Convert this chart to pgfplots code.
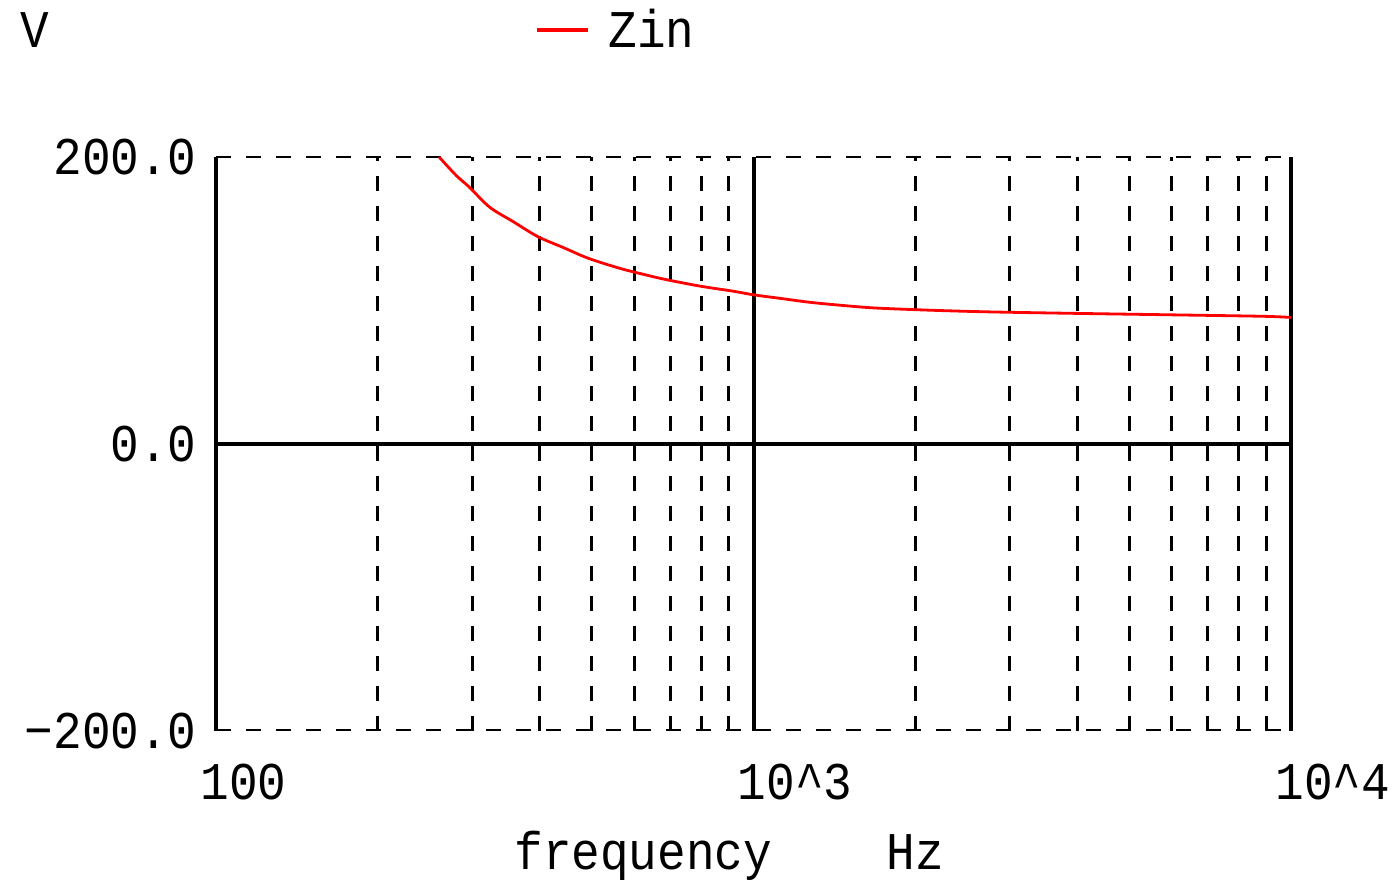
\documentclass[border=0pt]{standalone}
\usepackage{fontspec}
\setmainfont{Liberation Mono}[FakeStretch=0.9]
\usepackage{pgfplots}
\usepackage{pgfplotstable}
\pgfplotsset{compat=1.18}

% Input impedance magnitude versus frequency
\pgfplotstableread{
f      z
260    200.0
280    187.0
296    179.0
323    165.0
357    155.0
397    144.5
442    137.0
492    129.5
557    123.0
597    120.0
679    115.0
796    110.0
916    106.5
998    104.0
1120   101.5
1290   98.5
1578   95.5
1765   94.4
2223   93.0
2790   92.0
4000   91.0
6000   90.0
8832   89.0
10000  88.2
}\zin

\begin{document}
\begin{tikzpicture}
\fontsize{26.5}{30}\selectfont
\useasboundingbox (0,0) rectangle (696.5pt,441pt);
\begin{axis}[
  at={(108pt,75.5pt)}, anchor=south west,
  scale only axis, width=537.5pt, height=287pt,
  xmode=log, xmin=100, xmax=10000,
  ymin=-200, ymax=200,
  xtick={100,1000,10000},
  xticklabels={100,10\textasciicircum 3,10\textasciicircum 4},
  ytick={-200,0,200},
  yticklabels={−200.0,0.0,200.0},
  major tick length=0pt, minor tick length=0pt,
  axis line style={draw=none},
  xmajorgrids, xminorgrids,
  major grid style={black, line width=2pt},
  minor grid style={black, line width=1.5pt, dash pattern=on 7.5pt off 7.5pt},
  tick label style={font=\fontsize{26.5}{30}\selectfont, inner sep=0pt},
  xticklabel style={anchor=base west, xshift=-8pt, yshift=-34.5pt},
  yticklabel style={anchor=east, xshift=-9.5pt},
  /pgf/number format/assume math mode=true,
  clip=true,
]
  % frame: solid sides, dashed top and bottom, solid zero line
  \draw[black, line width=1.5pt, dash pattern=on 7.5pt off 7.5pt]
    (rel axis cs:0,1) -- (rel axis cs:1,1);
  \draw[black, line width=1.5pt, dash pattern=on 7.5pt off 7.5pt]
    (rel axis cs:0,0) -- (rel axis cs:1,0);
  \draw[black, line width=2pt] (rel axis cs:0,0.5) -- (rel axis cs:1,0.5);
  \addplot[red, line width=1.4pt, no markers, smooth] table[x=f, y=z] {\zin};
\end{axis}
% unit label and legend
\node[anchor=base west, inner sep=0pt] at (10pt,417pt) {V};
\draw[red, line width=2pt] (268.5pt,426pt) -- (294pt,426pt);
\node[anchor=base west, inner sep=0pt] at (304pt,417pt) {Zin};
% axis title
\node[anchor=base west, inner sep=0pt] at (257pt,6pt) {frequency\ \ \ \ Hz};
\end{tikzpicture}
\end{document}
